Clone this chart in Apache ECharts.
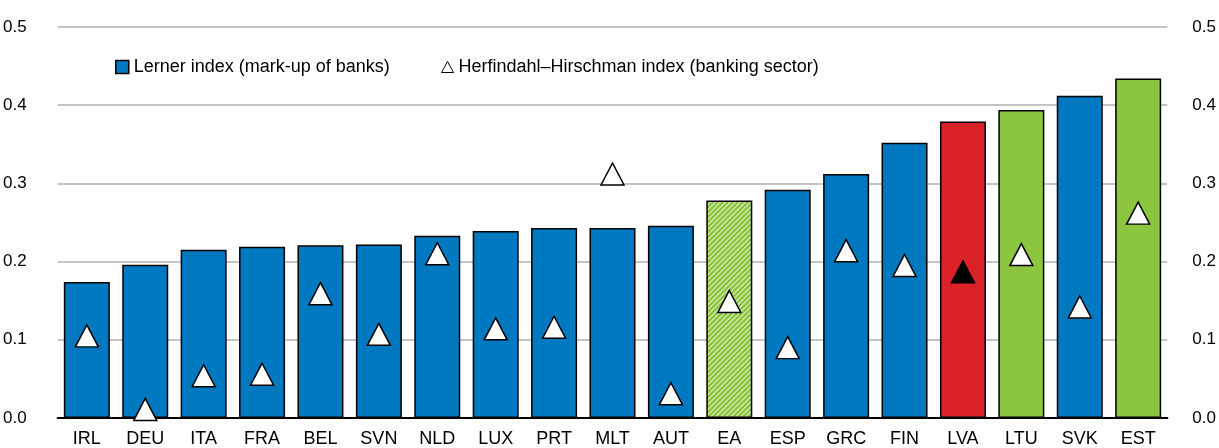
<!DOCTYPE html>
<html><head><meta charset="utf-8">
<script src="https://cdn.jsdelivr.net/npm/echarts@6/dist/echarts.min.js"></script>
<style>html,body{margin:0;padding:0;background:#fff}#c{width:1219px;height:448px}</style>
</head><body><div id="c"></div>
<script>
const categories = ['IRL','DEU','ITA','FRA','BEL','SVN','NLD','LUX','PRT','MLT','AUT','EA','ESP','GRC','FIN','LVA','LTU','SVK','EST'];
const lernerValues = [0.174,0.196,0.215,0.219,0.221,0.222,0.233,0.239,0.243,0.243,0.246,0.278,0.292,0.312,0.352,0.379,0.394,0.412,0.434];
const hhiValues = [0.105,0.011,0.054,0.056,0.159,0.107,0.210,0.114,0.116,0.312,0.031,0.149,0.090,0.214,0.195,0.187,0.209,0.142,0.262];
const barColorKind = ['b','b','b','b','b','b','b','b','b','b','b','ea','b','b','b','r','g','b','g'];
const yTicks = [0, 0.1, 0.2, 0.3, 0.4, 0.5];

const BLUE = '#0079C1', RED = '#DA2128', GREEN = '#8CC63F';
const FONT = "'Liberation Sans Narrow','Arial Narrow','Liberation Sans',Arial,sans-serif";

function stripes(){
  const c = document.createElement('canvas'); c.width = 5; c.height = 5;
  const x = c.getContext('2d');
  x.fillStyle = '#fff'; x.fillRect(0,0,5,5);
  x.strokeStyle = GREEN; x.lineWidth = 2.8;
  x.beginPath();
  x.moveTo(-1,6); x.lineTo(6,-1);
  x.moveTo(-1,1); x.lineTo(1,-1);
  x.moveTo(4,6); x.lineTo(6,4);
  x.stroke();
  return c;
}
const pattern = {image: stripes(), repeat: 'repeat'};

const barData = lernerValues.map((v,i)=>{
  const k = barColorKind[i];
  const color = k==='b'?BLUE:k==='r'?RED:k==='g'?GREEN:pattern;
  return {value:v, itemStyle:{color:color}};
});
const hhiData = hhiValues.map((v,i)=>({
  value:v,
  itemStyle:{color: categories[i]==='LVA' ? '#000' : '#fff'}
}));

const yAxisCommon = {
  type:'value', min:0, max:0.5, interval:0.1,
  axisLine:{show:false}, axisTick:{show:false},
  splitLine:{show:true, lineStyle:{color:'#c4c4c4', width:2}},
  axisLabel:{color:'#000', fontSize:17, fontFamily:FONT, formatter:v=>v.toFixed(1)}
};

const chart = echarts.init(document.getElementById('c'), null, {renderer:'canvas'});
chart.setOption({
  animation:false,
  grid:{left:53, right:43, top:27, bottom:25},
  legend:[
    {left:110, top:53, itemWidth:13, itemHeight:13, itemGap:10,
     textStyle:{color:'#000', fontSize:18, fontFamily:FONT},
     data:[{name:'Lerner index (mark-up of banks)', icon:'rect', itemStyle:{color:BLUE, borderColor:'#000', borderWidth:1.5}}]},
    {left:436, top:53, itemWidth:12, itemHeight:11, itemGap:10,
     textStyle:{color:'#000', fontSize:18, fontFamily:FONT},
     data:[{name:'Herfindahl–Hirschman index (banking sector)', icon:'triangle', itemStyle:{color:'#fff', borderColor:'#000', borderWidth:1}}]}
  ],
  xAxis:{
    type:'category', data:categories,
    axisLine:{show:true, lineStyle:{color:'#000', width:2}},
    axisTick:{show:false},
    axisLabel:{color:'#000', fontSize:18, fontFamily:FONT, margin:12, interval:0}
  },
  yAxis:[
    Object.assign({}, yAxisCommon, {position:'left', axisLabel:Object.assign({}, yAxisCommon.axisLabel, {margin:31})}),
    Object.assign({}, yAxisCommon, {position:'right', splitLine:{show:false}, axisLabel:Object.assign({}, yAxisCommon.axisLabel, {margin:25})})
  ],
  series:[
    {name:'Lerner index (mark-up of banks)', type:'bar', data:barData, barWidth:46,
     itemStyle:{borderColor:'#000', borderWidth:1.5}, z:2},
    {name:'Herfindahl–Hirschman index (banking sector)', type:'scatter', data:hhiData,
     symbol:'triangle', symbolSize:[23,22],
     itemStyle:{borderColor:'#000', borderWidth:1.5, opacity:1}, z:5}
  ]
});
</script></body></html>
